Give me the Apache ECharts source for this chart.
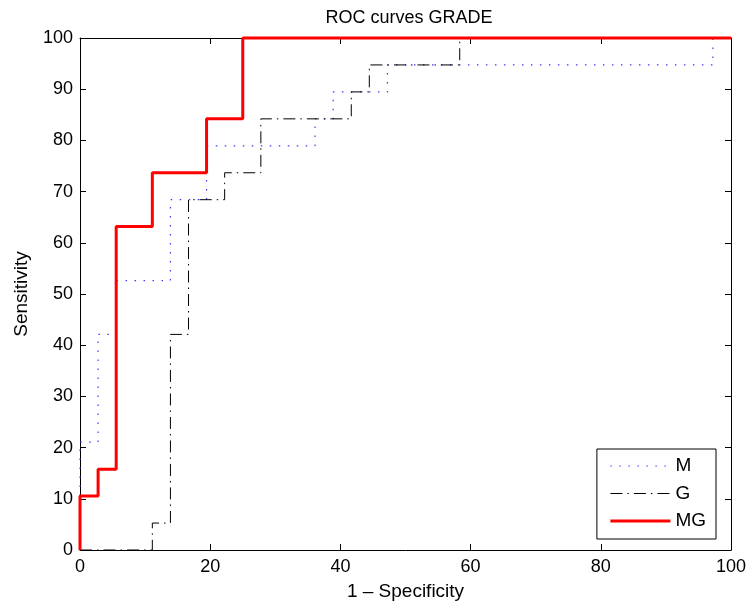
<!DOCTYPE html>
<html>
<head>
<meta charset="utf-8">
<style>
  html, body { margin: 0; padding: 0; background: #fff; }
  #chart { width: 750px; height: 609px; }
</style>
<script src="https://cdn.jsdelivr.net/npm/echarts@6/dist/echarts.min.js"></script>
</head>
<body>
<div id="chart"></div>
<script>
// ROC operating points (1 - specificity, sensitivity), in percent
const seriesNames = ['M', 'G', 'MG'];

const fprM = [0, 0, 2.78, 5.56, 13.89, 19.44, 36.11, 38.89, 47.22, 97.22, 100];
const tprM = [0, 21.05, 42.11, 52.63, 68.42, 78.95, 84.21, 89.47, 94.74, 100, 100];

const fprG = [0, 11.11, 13.89, 16.67, 22.22, 27.78, 41.67, 44.44, 58.33, 100];
const tprG = [0, 5.26, 42.11, 68.42, 73.68, 84.21, 89.47, 94.74, 100, 100];

const fprMG = [0, 0, 2.78, 5.56, 11.11, 19.44, 25, 100];
const tprMG = [0, 10.53, 15.79, 63.16, 73.68, 84.21, 100, 100];

const xTicks = [0, 20, 40, 60, 80, 100];
const yTicks = [0, 10, 20, 30, 40, 50, 60, 70, 80, 90, 100];

const FONT = 'Liberation Sans, Arial, Helvetica, sans-serif';

// line appearance per curve, shared by the plot and the legend samples
const styles = {
  M: { color: '#3a3aff', width: 1.2, type: [1.5, 7.5] },
  G: { color: '#000', width: 1, type: [12, 5, 1.5, 5] },
  MG: { color: '#ff0000', width: 3, type: 'solid' }
};

function pairs(xs, ys) {
  return xs.map((x, i) => [x, ys[i]]);
}

function axisBase(extra) {
  return Object.assign({
    type: 'value',
    min: 0,
    max: 100,
    axisLine: { show: true, onZero: false, lineStyle: { color: '#000', width: 1 } },
    axisTick: { show: true, inside: true, length: 6, lineStyle: { color: '#000', width: 1 } },
    splitLine: { show: false },
    axisLabel: { show: false }
  }, extra);
}

function curve(name, xs, ys, z) {
  return {
    name: name,
    type: 'line',
    step: 'end',
    symbol: 'none',
    clip: false,
    data: pairs(xs, ys),
    lineStyle: Object.assign({}, styles[name]),
    itemStyle: { color: styles[name].color },
    z: z
  };
}

const chart = echarts.init(document.getElementById('chart'), null, { renderer: 'canvas' });

chart.setOption({
  animation: false,
  backgroundColor: '#fff',
  title: {
    text: 'ROC curves GRADE',
    left: 404,
    textAlign: 'center',
    top: 4,
    textStyle: { fontFamily: FONT, fontSize: 18, fontWeight: 'normal', color: '#000' }
  },
  grid: { left: 80, right: 19, top: 38, bottom: 59, containLabel: false },
  xAxis: [
    axisBase({
      position: 'bottom',
      interval: xTicks[1] - xTicks[0],
      name: '1 \u2013 Specificity',
      nameLocation: 'middle',
      nameGap: 32,
      nameTextStyle: { fontFamily: FONT, fontSize: 19, color: '#000' },
      axisLabel: { show: true, margin: 8, fontFamily: FONT, fontSize: 18, color: '#000' }
    }),
    axisBase({ position: 'top', interval: xTicks[1] - xTicks[0] })
  ],
  yAxis: [
    axisBase({
      position: 'left',
      interval: yTicks[1] - yTicks[0],
      name: 'Sensitivity',
      nameLocation: 'middle',
      nameGap: 49,
      nameTextStyle: { fontFamily: FONT, fontSize: 19, color: '#000' },
      axisLabel: { show: true, margin: 7, fontFamily: FONT, fontSize: 18, color: '#000' }
    }),
    axisBase({ position: 'right', interval: yTicks[1] - yTicks[0] })
  ],
  legend: {
    data: seriesNames.map(n => ({ name: n, lineStyle: Object.assign({}, styles[n]) })),
    orient: 'vertical',
    right: 34,
    bottom: 70,
    itemWidth: 60,
    itemHeight: 14,
    itemGap: 8.5,
    padding: [7.5, 10, 8.5, 12],
    backgroundColor: '#fff',
    borderColor: '#000',
    borderWidth: 1,
    borderRadius: 0,
    itemStyle: { opacity: 0 },
    textStyle: { fontFamily: FONT, fontSize: 19, color: '#000' }
  },
  series: [
    curve('M', fprM, tprM, 2),
    curve('G', fprG, tprG, 3),
    curve('MG', fprMG, tprMG, 4)
  ]
});
</script>
</body>
</html>
